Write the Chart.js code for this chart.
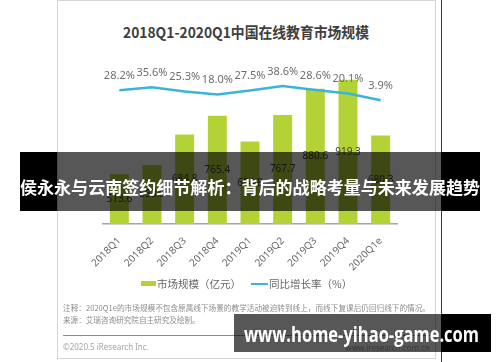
<!DOCTYPE html>
<html>
<head>
<meta charset="utf-8">
<script src="https://cdn.jsdelivr.net/npm/chart.js@4.4.1/dist/chart.umd.min.js"></script>
<style>
  html, body { margin:0; padding:0; background:#fff; }
  body { width:500px; height:362px; position:relative; overflow:hidden;
         font-family:"Noto Sans CJK SC","Noto Sans",sans-serif; }
  .abs { position:absolute; white-space:nowrap; }
  #box { left:57px; top:0px; width:377px; height:357px; border:1px solid #d6d6d6; }
  #vline { left:441px; top:0; width:1px; height:362px; background:#3a3a3a; }
  #chart { position:absolute; left:0; top:0; }
  #title { left:123px; top:21px; height:22px; line-height:22px;
           font-size:15px; font-weight:bold; color:#404040; }
  .legtxt { font-size:10.5px; color:#666; height:14px; line-height:14px; top:277px; }
  .note { font-size:7.6px; color:#8c8c8c; height:10px; line-height:10px; left:63px; }
  .ban { background:rgba(0,0,0,0.66); }
  .blk { background:#000; }
  .bantxt { color:#fff; font-weight:bold; }
</style>
</head>
<body>
<div id="box" class="abs"></div>
<div id="vline" class="abs"></div>
<div id="title" class="abs fit" data-w="246">2018Q1-2020Q1中国在线教育市场规模</div>
<canvas id="chart" width="500" height="362"></canvas>

<div class="abs" style="left:141px;top:281px;width:15px;height:5px;background:#b3d236"></div>
<div class="abs legtxt" id="leg1" style="left:157px">市场规模（亿元）</div>
<div class="abs" style="left:251px;top:283px;width:17px;height:2px;background:#3ab5d8"></div>
<div class="abs legtxt" id="leg2" style="left:269px">同比增长率（%）</div>

<div class="abs note fit" data-w="367" style="top:303px">注释：2020Q1e的市场规模不包含原属线下场景的教学活动被迫转到线上，而线下复课后仍回归线下的情况。</div>
<div class="abs note" style="top:315px">来源：艾瑞咨询研究院自主研究及绘制。</div>
<div class="abs" style="left:63px;top:335px;width:367px;height:1px;background:#8c8c8c"></div>
<div class="abs note" style="top:342px;font-size:8px;color:#a3a3a3;font-family:'Noto Sans',sans-serif">©2020.5 iResearch Inc.</div>
<div class="abs note" style="top:343px;left:auto;right:70px;font-size:8px;color:#a3a3a3;font-family:'Noto Sans',sans-serif">www.iresearch.com.cn</div>

<!-- overlay banner 1 -->
<div class="abs blk" style="left:20px;top:152px;width:37px;height:59px"></div>
<div class="abs ban" style="left:57px;top:152px;width:384px;height:59px"></div>
<div class="abs blk" style="left:441px;top:152px;width:39px;height:59px"></div>
<div class="abs bantxt fit" data-w="460" style="left:20px;top:175px;height:24px;line-height:24px;font-size:17px;">侯永永与云南签约细节解析：背后的战略考量与未来发展趋势</div>

<!-- overlay banner 2 -->
<div class="abs ban" style="left:234px;top:314px;width:207px;height:38px"></div>
<div class="abs blk" style="left:441px;top:314px;width:50px;height:38px"></div>
<div class="abs bantxt fit" data-w="235" style="left:244px;top:320px;height:28px;line-height:28px;font-size:21px;font-family:'Open Sans',sans-serif">www.home-yihao-game.com</div>

<script>
const quarters = ["2018Q1","2018Q2","2018Q3","2018Q4","2019Q1","2019Q2","2019Q3","2019Q4","2020Q1e"];
const marketSize = [513.6, 553.9, 684.8, 765.4, 654.8, 767.7, 880.6, 919.3, 680.3];
const growthRate = [28.2, 35.6, 25.3, 18.0, 27.5, 38.6, 28.6, 20.1, 3.9];

// fit text widths
document.querySelectorAll('.fit').forEach(el => {
  const w = parseFloat(el.dataset.w);
  const nat = el.getBoundingClientRect().width;
  el.style.transformOrigin = 'left center';
  el.style.transform = 'scaleX(' + (w / nat) + ')';
});

const labelPlugin = {
  id: 'valueLabels',
  afterDatasetsDraw(chart) {
    const ctx = chart.ctx;
    ctx.save();
    ctx.textAlign = 'center';
    ctx.textBaseline = 'middle';
    // bar labels
    const barMeta = chart.getDatasetMeta(0);
    ctx.font = '10px "Noto Sans", sans-serif';
    ctx.fillStyle = '#3c3c3c';
    barMeta.data.forEach((bar, i) => {
      const p = bar.getProps(['x','y','base'], true);
      ctx.fillText(marketSize[i].toFixed(1), p.x, (p.y + p.base) / 2);
    });
    // percent labels
    const lineMeta = chart.getDatasetMeta(1);
    ctx.font = '11px "Noto Sans", sans-serif';
    ctx.fillStyle = '#6e6e6e';
    lineMeta.data.forEach((pt, i) => {
      const p = pt.getProps(['x','y'], true);
      ctx.fillText(growthRate[i].toFixed(1) + '%', p.x, p.y - 14.5);
    });
    ctx.restore();
  }
};

new Chart(document.getElementById('chart'), {
  data: {
    labels: quarters,
    datasets: [
      { type: 'bar', label: '市场规模（亿元）', data: marketSize, backgroundColor: '#b3d236',
        yAxisID: 'y', base: 300, barPercentage: 0.58, categoryPercentage: 1, order: 2 },
      { type: 'line', label: '同比增长率（%）', data: growthRate, borderColor: '#3ab5d8',
        borderWidth: 2.5, pointRadius: 0, tension: 0, yAxisID: 'y1', order: 1 }
    ]
  },
  options: {
    responsive: false,
    animation: false,
    devicePixelRatio: 1,
    layout: { padding: { left: 103, right: 103, top: 61, bottom: 0 } },
    plugins: { legend: { display: false }, title: { display: false }, tooltip: { enabled: false } },
    scales: {
      x: {
        type: 'category', offset: true,
        grid: { display: false },
        border: { display: true, color: '#a6a6a6', width: 1.5 },
        ticks: { minRotation: 45, maxRotation: 45, color: '#6a6a6a', padding: 3,
                 font: { size: 10, family: '"Noto Sans", sans-serif' } },
        afterFit: s => { s.height = 138; }
      },
      y: { display: false, min: 300, max: 1000 },
      y1: { display: false, min: -296, max: 99 }
    }
  },
  plugins: [labelPlugin]
});
</script>
</body>
</html>
